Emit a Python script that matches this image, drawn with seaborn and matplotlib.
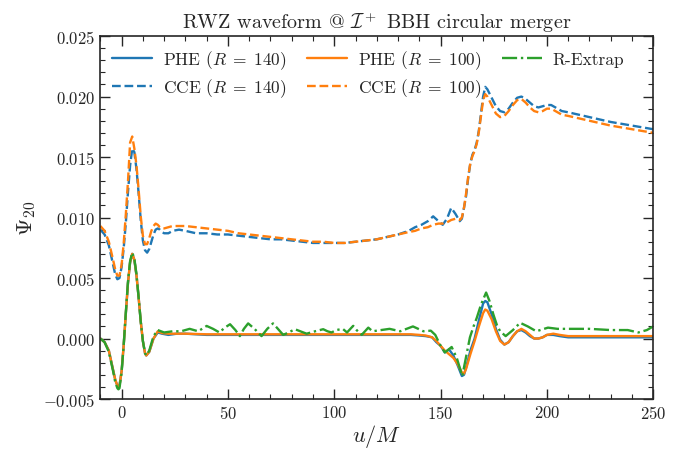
import numpy as np
import pandas as pd
import matplotlib
matplotlib.use('Agg')
import matplotlib.pyplot as plt
from matplotlib.ticker import MultipleLocator
import seaborn as sns

# PHE waveforms (R = 140, R = 100)
phe_u = [-10, -8, -6, -4, -3, -2, -1.5, -1, 0, 1, 2, 3, 4, 5, 6, 7, 8, 9, 10, 11, 11.6,
         13, 15, 17, 19, 22, 26, 30, 40, 50, 60, 70, 80, 90, 100, 110, 120, 130, 136,
         140, 143, 146, 148, 150, 152, 154, 156, 158, 160, 161, 162, 164, 166, 168, 170,
         171, 172, 174, 176, 178, 180, 182, 184, 186, 188, 190, 192, 194, 196, 198, 200,
         203, 206, 210, 220, 230, 240, 250]
phe_140 = [0.0000, -0.0003, -0.0010, -0.0026, -0.0034, -0.0039, -0.0040, -0.0039, -0.0027,
           -0.0005, 0.0021, 0.0046, 0.0063, 0.0070, 0.0065, 0.0052, 0.0034, 0.0014, -0.0002,
           -0.0012, -0.0014, -0.0011, 0.0000, 0.0005, 0.0004, 0.0003, 0.0004, 0.0004, 0.0003,
           0.0003, 0.0003, 0.0003, 0.0003, 0.0003, 0.0003, 0.0003, 0.0003, 0.0003, 0.0003,
           0.00025, 0.0002, 0.0001, -0.0003, -0.0006, -0.00115, -0.0009, -0.0014, -0.0022,
           -0.0031, -0.0030, -0.0024, -0.0010, 0.0000, 0.0015, 0.0029, 0.0031, 0.0030, 0.0020,
           0.0008, -0.0001, -0.0005, -0.0003, 0.0002, 0.0006, 0.0007, 0.0005, 0.0002, 0.0000,
           0.0000, 0.0001, 0.0003, 0.0003, 0.0002, 0.0001, 0.0001, 0.0001, 0.0001, 0.0001]
phe_100 = [0.0000, -0.0003, -0.0010, -0.0026, -0.0034, -0.0039, -0.0040, -0.0039, -0.0027,
           -0.0005, 0.0021, 0.0046, 0.0063, 0.0070, 0.0065, 0.0052, 0.0034, 0.0014, -0.0002,
           -0.0012, -0.0014, -0.0011, 0.0000, 0.0006, 0.00045, 0.0004, 0.0004, 0.0004, 0.00035,
           0.00035, 0.00035, 0.00035, 0.00035, 0.00035, 0.00035, 0.00035, 0.00035, 0.00035,
           0.00035, 0.0003, 0.00025, 0.0001, -0.0002, -0.0006, -0.0010, -0.0013, -0.0016,
           -0.0021, -0.0028, -0.0029, -0.0025, -0.0013, -0.0002, 0.0010, 0.0021, 0.0024,
           0.0023, 0.0016, 0.0006, -0.0002, -0.0005, -0.0003, 0.0002, 0.0006, 0.0008, 0.0006,
           0.0003, 0.0000, 0.0000, 0.0001, 0.0003, 0.0004, 0.0003, 0.0002, 0.0002, 0.0002,
           0.0002, 0.0002]

# Radius-extrapolated waveform
ext_u = [-10, -8, -6, -4, -3, -2, -1.5, -1, 0, 1, 2, 3, 4, 5, 6, 7, 8, 9, 10, 11, 11.6, 13,
         15, 17, 20, 24, 28, 32, 36, 40, 43, 46, 48.5, 51, 53.5, 55.6, 57.5, 59.5, 62.5,
         65.8, 68.5, 71.2, 73.5, 76, 78.5, 81.5, 84, 87, 91, 94.8, 96.8, 98.7, 101, 104,
         106, 108.9, 110.5, 112.9, 116, 118, 122, 126, 128.5, 131, 134, 137, 139.5, 141.9,
         145.4, 147.5, 149.7, 152, 155.2, 157.6, 160.2, 162, 163.8, 165.5, 167, 169, 171.4,
         173, 174.8, 176.5, 178, 180.6, 184, 187.4, 191, 195, 200.5, 205, 210, 220, 230,
         238, 243, 247, 250]
ext_val = [0.0000, -0.0003, -0.0011, -0.0027, -0.0036, -0.0041, -0.0042, -0.0041, -0.0028,
           -0.0005, 0.0022, 0.0047, 0.0064, 0.0071, 0.0066, 0.0053, 0.0034, 0.0014, -0.0002,
           -0.0012, -0.0014, -0.0010, 0.0002, 0.0007, 0.0005, 0.0006, 0.0006, 0.0008, 0.0006,
           0.00104, 0.0008, 0.0005, 0.0009, 0.00118, 0.0007, 0.0002, 0.0008, 0.00125, 0.0008,
           0.0002, 0.0008, 0.00125, 0.0008, 0.0003, 0.0005, 0.00077, 0.0006, 0.0004, 0.0006,
           0.00077, 0.0006, 0.0005, 0.0007, 0.0008, 0.0005, 0.00105, 0.0007, 0.0003, 0.0009,
           0.0006, 0.0007, 0.0008, 0.0007, 0.0006, 0.0008, 0.0010, 0.0008, 0.0006, 0.00065,
           0.0003, -0.0005, -0.00115, -0.0007, -0.0016, -0.0031, -0.0015, 0.0001, 0.0010,
           0.0017, 0.0028, 0.0038, 0.0031, 0.0020, 0.0011, 0.0006, 0.0002, 0.0007, 0.0013,
           0.0010, 0.0006, 0.0009, 0.0008, 0.0008, 0.0008, 0.0007, 0.0007, 0.0005, 0.0007,
           0.0010]

# CCE waveforms (R = 140, R = 100)
cce_u = [-10, -8, -6, -4, -3, -2, -1, 0, 1, 2, 3, 4, 5, 6, 7, 8, 9, 10, 11, 12, 13, 14, 15,
         16, 17, 18, 19, 20, 22, 24, 27, 30, 35, 40, 45, 50, 55, 60, 65, 70, 75, 80, 85, 90,
         95, 100, 105, 110, 115, 120, 125, 130, 135, 138, 141, 144, 146.5, 149, 151, 153,
         155, 157, 159, 160, 161, 162, 163, 164, 165, 166, 167, 168, 169, 170, 171, 172,
         174, 176, 178, 180, 182, 184, 186, 188, 190, 192, 194, 196, 198, 200, 202, 204,
         207, 210, 220, 230, 240, 250]
cce_140 = [0.0090, 0.0086, 0.0077, 0.0061, 0.0053, 0.0049, 0.0050, 0.0059, 0.0075, 0.0096,
           0.0121, 0.0143, 0.0157, 0.0154, 0.0140, 0.0120, 0.0098, 0.0081, 0.0073, 0.0071,
           0.0074, 0.0080, 0.0086, 0.0090, 0.0091, 0.0090, 0.0088, 0.0087, 0.0087, 0.0089,
           0.0090, 0.0089, 0.0087, 0.0087, 0.0086, 0.0086, 0.0085, 0.0084, 0.0083, 0.0082,
           0.0082, 0.0081, 0.0080, 0.0079, 0.0079, 0.0079, 0.0079, 0.0080, 0.0081, 0.0082,
           0.0084, 0.0086, 0.0089, 0.0092, 0.0094, 0.0097, 0.0101, 0.0097, 0.0094, 0.0099,
           0.0108, 0.0103, 0.0097, 0.0099, 0.0108, 0.0118, 0.0133, 0.0145, 0.0152, 0.0156,
           0.0162, 0.0172, 0.0186, 0.0200, 0.0208, 0.0206, 0.0199, 0.0192, 0.0188, 0.0187,
           0.0190, 0.0195, 0.0199, 0.0200, 0.0198, 0.0195, 0.0192, 0.0191, 0.0192, 0.0193,
           0.0193, 0.0191, 0.0188, 0.0187, 0.0183, 0.0179, 0.0176, 0.0173]
cce_100 = [0.0093, 0.0089, 0.0080, 0.0065, 0.0057, 0.0052, 0.0052, 0.0061, 0.0079, 0.0103,
           0.0130, 0.0162, 0.0167, 0.0157, 0.0143, 0.0123, 0.0101, 0.0085, 0.0078, 0.0078,
           0.0083, 0.0089, 0.0093, 0.0095, 0.0094, 0.0092, 0.0091, 0.0091, 0.0092, 0.0093,
           0.0093, 0.0093, 0.0092, 0.0091, 0.0090, 0.0089, 0.0087, 0.0086, 0.0085, 0.0084,
           0.0083, 0.0082, 0.0081, 0.0080, 0.0080, 0.0079, 0.0079, 0.0080, 0.0081, 0.0082,
           0.0084, 0.0086, 0.0088, 0.0089, 0.0091, 0.0092, 0.0094, 0.0095, 0.0095, 0.0096,
           0.0098, 0.0099, 0.0098, 0.0100, 0.0108, 0.0120, 0.0134, 0.0145, 0.0151, 0.0155,
           0.0161, 0.0171, 0.0184, 0.0197, 0.0202, 0.0200, 0.0193, 0.0186, 0.0183, 0.0184,
           0.0188, 0.0193, 0.0197, 0.0198, 0.0195, 0.0191, 0.0188, 0.0187, 0.0188, 0.0190,
           0.0190, 0.0188, 0.0185, 0.0184, 0.0180, 0.0176, 0.0173, 0.0170]

sns.set_style('ticks', {'xtick.direction': 'in', 'ytick.direction': 'in'})
plt.rcParams['font.family'] = 'serif'
plt.rcParams['font.serif'] = ['cmr10', 'DejaVu Serif']
plt.rcParams['mathtext.fontset'] = 'cm'
plt.rcParams['axes.formatter.use_mathtext'] = True

blue, orange, green = '#1f77b4', '#ff7f0e', '#2ca02c'
lw = 1.7

fig, ax = plt.subplots(figsize=(6.92, 4.52), dpi=100)

sns.lineplot(x=phe_u, y=phe_140, color=blue, lw=lw, label=r'PHE ($R\;=\;140$)', ax=ax)
sns.lineplot(x=cce_u, y=cce_140, color=blue, lw=lw, ls='--', label=r'CCE ($R\;=\;140$)', ax=ax)
sns.lineplot(x=phe_u, y=phe_100, color=orange, lw=lw, label=r'PHE ($R\;=\;100$)', ax=ax)
sns.lineplot(x=cce_u, y=cce_100, color=orange, lw=lw, ls='--', label=r'CCE ($R\;=\;100$)', ax=ax)
sns.lineplot(x=ext_u, y=ext_val, color=green, lw=lw, ls='-.', label='R-Extrap', ax=ax)

ax.set_xlim(-10, 250)
ax.set_ylim(-0.005, 0.025)
ax.xaxis.set_major_locator(MultipleLocator(50))
ax.xaxis.set_minor_locator(MultipleLocator(10))
ax.yaxis.set_major_locator(MultipleLocator(0.005))
ax.yaxis.set_minor_locator(MultipleLocator(0.001))
ax.tick_params(which='both', direction='in', top=True, right=True, labelsize=12)
ax.tick_params(which='major', length=7, width=1)
ax.tick_params(which='minor', length=3.5, width=0.8)
for s in ax.spines.values():
    s.set_linewidth(1.2)

ax.set_title(r'RWZ waveform @ $\mathcal{I}^+$ BBH circular merger', fontsize=14.5)
ax.set_xlabel(r'$u/M$', fontsize=16, labelpad=1)
ax.set_ylabel(r'$\Psi_{20}$', fontsize=16)

ax.legend(ncol=3, loc='upper left', frameon=False, fontsize=12.5,
          handlelength=2.3, handletextpad=0.6, columnspacing=1.2,
          borderaxespad=0.3, labelspacing=0.3)

fig.subplots_adjust(left=0.145, right=0.944, top=0.918, bottom=0.115)
fig.savefig('out.png', dpi=100)
